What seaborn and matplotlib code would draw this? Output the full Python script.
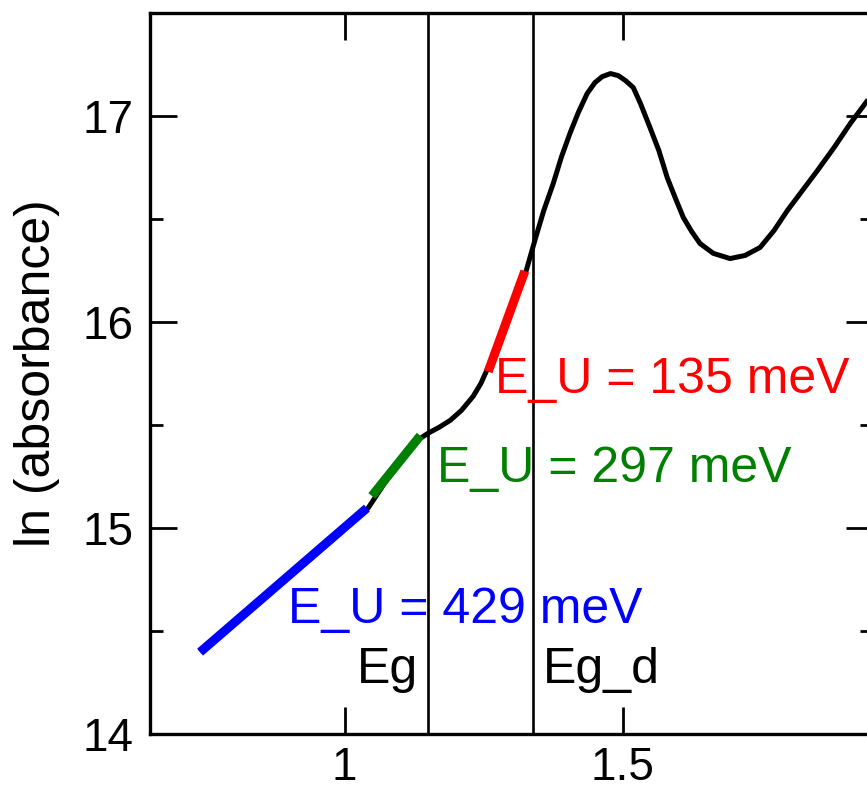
import numpy as np
import pandas as pd
import matplotlib
matplotlib.use("Agg")
import matplotlib.pyplot as plt
from matplotlib.ticker import MultipleLocator
import seaborn as sns

# Absorption spectrum: photon energy (eV) vs ln(absorbance)
energy = [0.740, 0.815, 0.891, 0.967, 1.042, 1.092, 1.136, 1.150, 1.170,
          1.190, 1.210, 1.231, 1.245, 1.258, 1.290, 1.324, 1.342, 1.358,
          1.375, 1.390, 1.405, 1.420, 1.436, 1.450, 1.463, 1.478, 1.492,
          1.505, 1.519, 1.532, 1.549, 1.565, 1.580, 1.595, 1.609, 1.624,
          1.639, 1.663, 1.693, 1.720, 1.747, 1.772, 1.796, 1.823, 1.850,
          1.880, 1.909, 1.940, 1.965]
ln_abs = [14.398, 14.572, 14.747, 14.917, 15.096, 15.300, 15.435, 15.460, 15.489,
          15.523, 15.571, 15.639, 15.702, 15.780, 15.998, 16.226, 16.396, 16.541,
          16.672, 16.803, 16.915, 17.016, 17.109, 17.162, 17.191, 17.206, 17.196,
          17.172, 17.138, 17.060, 16.944, 16.832, 16.701, 16.599, 16.507, 16.439,
          16.381, 16.333, 16.308, 16.323, 16.362, 16.444, 16.541, 16.638, 16.735,
          16.847, 16.963, 17.075, 17.170]

# Urbach-tail fits: slope of ln(absorbance) vs energy is 1/E_U
urbach_meV = [429, 297, 135]
fit_start = [0.740, 1.049, 1.258]
fit_end = [1.040, 1.136, 1.324]
fit_mid_y = [14.747, 15.302, 16.003]
fit_colors = ["#0000ff", "#008000", "#ff0000"]
label_x = [0.898, 1.166, 1.2705]
label_y = [14.538, 15.222, 15.654]

# Band-gap markers
gap_names = ["Eg", "Eg_d"]
gap_energy = [1.149, 1.339]

sns.set_theme(style="ticks")
plt.rcParams["font.family"] = ["Liberation Sans", "DejaVu Sans"]
plt.rcParams.update({"text.color": "black", "axes.labelcolor": "black",
                     "xtick.color": "black", "ytick.color": "black",
                     "lines.solid_capstyle": "butt"})

fig = plt.figure(figsize=(8.67, 7.94), dpi=100)
ax = fig.add_axes([150 / 867, 1 - 734 / 794, (873 - 150) / 867, (734 - 13) / 794])

spec = pd.DataFrame({"E": energy, "lnA": ln_abs})
sns.lineplot(data=spec, x="E", y="lnA", ax=ax, color="black", lw=3.6,
             sort=False, estimator=None, zorder=3)

for eu, x0, x1, ym, c in zip(urbach_meV, fit_start, fit_end, fit_mid_y, fit_colors):
    slope = 1000.0 / eu
    xm = 0.5 * (x0 + x1)
    seg = pd.DataFrame({"E": [x0, x1],
                        "lnA": [ym + slope * (x0 - xm), ym + slope * (x1 - xm)]})
    sns.lineplot(data=seg, x="E", y="lnA", ax=ax, color=c, lw=6.5,
                 sort=False, estimator=None, zorder=4)

for eu, tx, ty, c in zip(urbach_meV, label_x, label_y, fit_colors):
    ax.text(tx, ty, f"E_U = {eu} meV", color=c, fontsize=36,
            ha="left", va="baseline", zorder=5)

for name, eg in zip(gap_names, gap_energy):
    ax.axvline(eg, color="black", lw=1.9, zorder=2)
ax.text(gap_energy[0] - 0.017, 14.247, gap_names[0], fontsize=36,
        ha="right", va="baseline", color="black")
ax.text(gap_energy[1] + 0.017, 14.247, gap_names[1], fontsize=36,
        ha="left", va="baseline", color="black")

ax.set_xlim(0.65, 1.95)
ax.set_ylim(14, 17.5)
ax.yaxis.set_minor_locator(MultipleLocator(0.5))
ax.set_xticks([1.0, 1.5])
ax.set_xticklabels(["1", "1.5"])
ax.set_yticks([14, 15, 16, 17])
ax.set_yticklabels(["14", "15", "16", "17"])

ax.tick_params(axis="both", which="both", direction="in", top=True, right=True,
               width=2.0, color="black", labelcolor="black")
ax.tick_params(axis="both", which="major", length=19.5, labelsize=33)
ax.tick_params(axis="x", which="major", pad=9)
ax.tick_params(axis="y", which="major", pad=12)
ax.tick_params(axis="y", which="minor", length=9.5)

for sp in ax.spines.values():
    sp.set_visible(True)
    sp.set_linewidth(2.4)
    sp.set_color("black")

ax.set_xlabel("")
ax.set_ylabel("ln (absorbance)", fontsize=36, labelpad=16, color="black")

fig.savefig("out.png", dpi=100)
